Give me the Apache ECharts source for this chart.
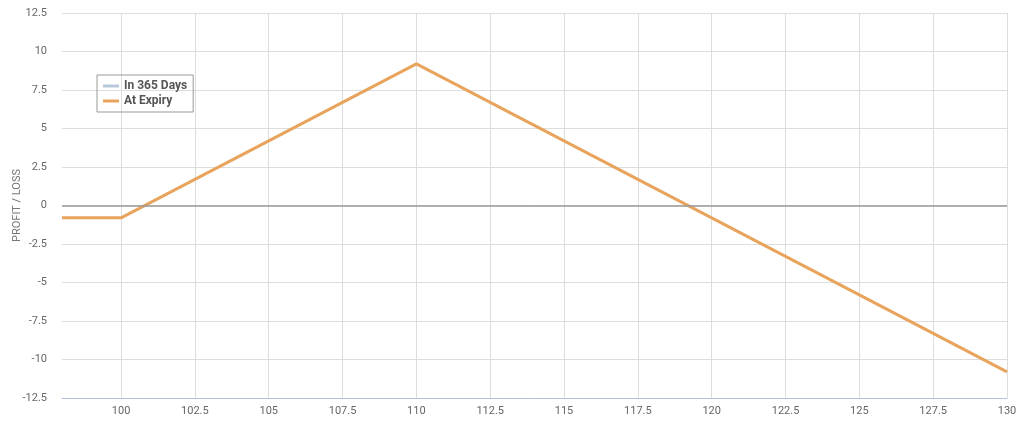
<!DOCTYPE html>
<html>
<head>
<meta charset="utf-8">
<script src="https://cdn.jsdelivr.net/npm/echarts@6/dist/echarts.min.js"></script>
<style>
  html, body { margin: 0; padding: 0; background: #fff; }
  #chart { width: 1024px; height: 424px; }
</style>
</head>
<body>
<div id="chart"></div>
<script>
// underlying price
const prices = [98, 100, 110, 130];
// P/L at expiry
const atExpiry = [-0.8, -0.8, 9.2, -10.8];
// no values plotted for this one
const in365Days = [];
// x tick labels
const xTicks = [100, 102.5, 105, 107.5, 110, 112.5, 115, 117.5, 120, 122.5, 125, 127.5, 130];

const font = "'Liberation Sans Narrow', 'Roboto', sans-serif";

const myChart = echarts.init(document.getElementById('chart'));

const option = {
  animation: false,
  backgroundColor: '#fff',
  grid: { left: 62, right: 17, top: 13, bottom: 26, outerBoundsMode: 'none', containLabel: false },
  legend: {
    left: 97,
    top: 75,
    orient: 'vertical',
    itemGap: 3,
    itemWidth: 16,
    itemHeight: 3,
    padding: [5, 6, 5, 6],
    borderColor: '#999',
    borderWidth: 1,
    textStyle: { color: '#555', fontSize: 12, fontWeight: 'bold', fontFamily: font },
    data: [
      { name: 'In 365 Days', icon: 'rect', itemStyle: { color: '#b8c8dc' } },
      { name: 'At Expiry', icon: 'rect', itemStyle: { color: '#e8a45c' } }
    ]
  },
  xAxis: {
    type: 'value',
    min: 98,
    max: 130,
    axisLine: { onZero: false, lineStyle: { color: '#b0c4de' } },
    axisTick: { show: false, customValues: xTicks },
    axisLabel: { customValues: xTicks, color: '#666', fontSize: 11, fontFamily: font, margin: 8 },
    splitLine: { show: true, lineStyle: { color: '#ddd' } }
  },
  yAxis: {
    type: 'value',
    min: -12.5,
    max: 12.5,
    interval: 2.5,
    name: 'PROFIT / LOSS',
    nameLocation: 'middle',
    nameGap: 39,
    nameMoveOverlap: false,
    nameTextStyle: { color: '#777', fontSize: 11, fontFamily: font },
    axisLine: { show: false },
    axisTick: { show: false },
    axisLabel: { color: '#666', fontSize: 11, fontFamily: font, margin: 15 },
    splitLine: { lineStyle: { color: '#ddd' } }
  },
  series: [
    {
      name: 'In 365 Days',
      type: 'line',
      symbol: 'none',
      data: in365Days,
      lineStyle: { color: '#b8c8dc', type: 'dotted', width: 2 }
    },
    {
      name: 'At Expiry',
      type: 'line',
      symbol: 'none',
      data: prices.map((p, i) => [p, atExpiry[i]]),
      lineStyle: { color: '#e8a45c', width: 3 },
      markLine: {
        silent: true,
        symbol: 'none',
        label: { show: false },
        lineStyle: { color: '#999', type: 'solid', width: 1.5 },
        data: [{ yAxis: 0 }]
      },
      z: 3
    }
  ]
};

myChart.setOption(option);
</script>
</body>
</html>
